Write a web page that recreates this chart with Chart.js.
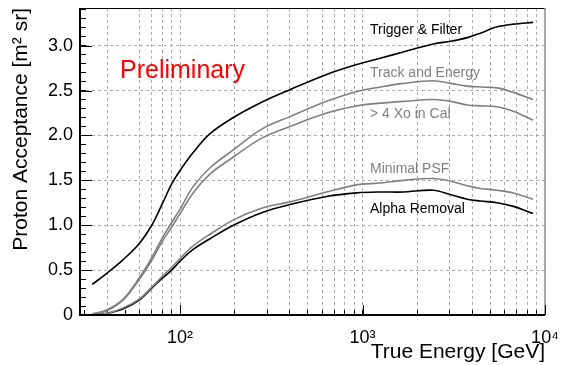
<!DOCTYPE html>
<html>
<head>
<meta charset="utf-8">
<script src="https://cdn.jsdelivr.net/npm/chart.js@4.4.0/dist/chart.umd.min.js"></script>
<style>
    html, body { margin: 0; padding: 0; background: #fff; }
    #contenedor { width: 565px; height: 365px; }
</style>
</head>
<body>
<div id="contenedor"><canvas id="canvasAceptancia" width="565" height="365"></canvas></div>
<script>
// Energía verdadera [GeV], común a todas las curvas
const energias = [33, 40, 49, 60, 70, 80, 90, 100, 118, 146, 196, 280, 400, 636, 930, 1250, 1670, 2440, 3050, 3750, 4420, 5460, 6700, 8600];

// Aceptancia de protones [m^2 sr] por corte
const triggerFilter = [0.34, 0.47, 0.62, 0.80, 1.00, 1.24, 1.46, 1.61, 1.81, 2.02, 2.20, 2.37, 2.51, 2.68, 2.79, 2.86, 2.93, 3.02, 3.05, 3.09, 3.14, 3.21, 3.24, 3.26];
const trackEnergy   = [0.01, 0.06, 0.18, 0.42, 0.64, 0.86, 1.03, 1.18, 1.43, 1.64, 1.84, 2.07, 2.21, 2.38, 2.49, 2.54, 2.58, 2.61, 2.58, 2.55, 2.54, 2.53, 2.48, 2.40];
const xoEnCal       = [0.01, 0.05, 0.17, 0.40, 0.61, 0.82, 0.98, 1.13, 1.36, 1.57, 1.76, 1.97, 2.10, 2.25, 2.33, 2.36, 2.38, 2.40, 2.38, 2.34, 2.33, 2.32, 2.27, 2.17];
const minimalPsf    = [0.00, 0.02, 0.08, 0.18, 0.31, 0.43, 0.53, 0.63, 0.77, 0.90, 1.06, 1.19, 1.26, 1.37, 1.45, 1.47, 1.50, 1.52, 1.49, 1.44, 1.41, 1.39, 1.36, 1.29];
const alphaRemoval  = [0.00, 0.02, 0.07, 0.17, 0.30, 0.41, 0.50, 0.60, 0.73, 0.85, 1.00, 1.14, 1.23, 1.32, 1.36, 1.37, 1.37, 1.39, 1.34, 1.29, 1.27, 1.25, 1.21, 1.13];

const nombresCurvas = ['Trigger & Filter', 'Track and Energy', '> 4 Xo in Cal', 'Minimal PSF', 'Alpha Removal'];
const coloresCurvas = ['#000000', '#808080', '#808080', '#808080', '#000000'];

// Marcas de los ejes
const ticksX = [30, 40, 50, 60, 70, 80, 90, 100, 200, 300, 400, 500, 600, 700, 800, 900,
                1000, 2000, 3000, 4000, 5000, 6000, 7000, 8000, 9000, 10000];
const etiquetasX = { 100: '10\u00B2', 1000: '10\u00B3', 10000: '10\u2074' };
const sinRejillaX = [30, 50, 10000];
const ticksY = [0, 0.1, 0.2, 0.3, 0.4, 0.5, 0.6, 0.7, 0.8, 0.9, 1.0, 1.1, 1.2, 1.3, 1.4, 1.5, 1.6, 1.7,
                1.8, 1.9, 2.0, 2.1, 2.2, 2.3, 2.4, 2.5, 2.6, 2.7, 2.8, 2.9, 3.0, 3.1, 3.2, 3.3, 3.4];
const etiquetasY = ['0', '0.5', '1.0', '1.5', '2.0', '2.5', '3.0'];

const FUENTE = "'Liberation Sans', Arial, Helvetica, sans-serif";

function esMayorY(v) {
    return Math.abs(v * 2 - Math.round(v * 2)) < 1e-6;
}

function esDecada(v) {
    return v in etiquetasX;
}

function linea(ctx, x1, y1, x2, y2) {
    ctx.beginPath();
    ctx.moveTo(x1, y1);
    ctx.lineTo(x2, y2);
    ctx.stroke();
}

// marco, marcas largas y textos
const pluginMarco = {
    id: 'marco',
    afterDatasetsDraw(chart) {
        const { ctx, chartArea: a } = chart;
        const sx = chart.scales.x;
        const sy = chart.scales.y;
        ctx.save();
        ctx.setLineDash([]);

        ctx.strokeStyle = '#000';
        ctx.lineWidth = 1;
        linea(ctx, a.left, a.top + 0.5, a.right, a.top + 0.5);
        ctx.strokeStyle = '#8a8a8a';
        ctx.lineWidth = 1.5;
        linea(ctx, a.right, a.top, a.right, a.bottom);
        ctx.strokeStyle = '#000';
        ctx.lineWidth = 2;
        linea(ctx, a.left, a.top, a.left, a.bottom + 1);
        linea(ctx, a.left - 1, a.bottom, a.right, a.bottom);

        // las marcas mayores son el doble de largas
        ctx.lineWidth = 1;
        ticksY.filter(esMayorY).forEach(v => {
            const py = Math.round(sy.getPixelForValue(v)) + 0.5;
            linea(ctx, a.left, py, a.left + 12, py);
        });
        ticksX.filter(esDecada).forEach(v => {
            const px = Math.round(sx.getPixelForValue(v)) + 0.5;
            linea(ctx, px, a.bottom, px, a.bottom - 10);
        });

        ctx.textBaseline = 'alphabetic';
        ctx.textAlign = 'left';
        ctx.fillStyle = '#ff0000';
        ctx.font = `25px ${FUENTE}`;
        ctx.fillText('Preliminary', 120, 78);

        const posY = [34, 77, 118, 173, 213];
        ctx.font = `14px ${FUENTE}`;
        nombresCurvas.forEach((nombre, i) => {
            ctx.fillStyle = coloresCurvas[i];
            ctx.fillText(nombre, 370, posY[i]);
        });
        ctx.restore();
    }
};

const series = [triggerFilter, trackEnergy, xoEnCal, minimalPsf, alphaRemoval];

new Chart(document.getElementById('canvasAceptancia'), {
    type: 'line',
    data: {
        datasets: series.map((valores, i) => ({
            label: nombresCurvas[i],
            data: energias.map((e, k) => ({ x: e, y: valores[k] })),
            borderColor: coloresCurvas[i],
            borderWidth: 1.6,
            pointRadius: 0,
            fill: false,
            tension: 0.35
        }))
    },
    options: {
        responsive: false,
        animation: false,
        devicePixelRatio: 1,
        layout: { padding: { top: 8, right: 20, left: 0, bottom: 0 } },
        plugins: { legend: { display: false }, tooltip: { enabled: false } },
        scales: {
            x: {
                type: 'logarithmic',
                min: 28.3,
                max: 10000,
                afterBuildTicks: scale => { scale.ticks = ticksX.map(v => ({ value: v })); },
                afterFit: scale => {
                    scale.height = 50;
                    scale.paddingLeft = 0;
                    scale.paddingRight = 0;
                },
                ticks: {
                    autoSkip: false,
                    maxRotation: 0,
                    padding: 17,
                    color: '#000',
                    font: { family: FUENTE, size: 18 },
                    callback: v => etiquetasX[v] || ''
                },
                grid: {
                    drawTicks: true,
                    tickLength: -5,
                    tickColor: '#000',
                    tickWidth: 1,
                    lineWidth: 1,
                    color: c => (c.tick && sinRejillaX.includes(c.tick.value)) ? 'rgba(0,0,0,0)' : '#ababab'
                },
                border: { display: false, dash: [3, 3] },
                title: {
                    display: true,
                    text: 'True Energy [GeV]',
                    align: 'end',
                    color: '#000',
                    font: { family: FUENTE, size: 21 },
                    padding: { top: 0, bottom: 0 }
                }
            },
            y: {
                min: 0,
                max: 3.42,
                afterBuildTicks: scale => { scale.ticks = ticksY.map(v => ({ value: v })); },
                afterFit: scale => {
                    scale.width = 80;
                    scale.paddingTop = 0;
                    scale.paddingBottom = 0;
                },
                ticks: {
                    autoSkip: false,
                    padding: 13,
                    color: '#000',
                    font: { family: FUENTE, size: 18 },
                    callback: v => esMayorY(v) ? etiquetasY[Math.round(v * 2)] : ''
                },
                grid: {
                    drawTicks: true,
                    tickLength: -6,
                    tickColor: '#000',
                    tickWidth: 1,
                    lineWidth: 1,
                    color: c => (c.tick && esMayorY(c.tick.value) && c.tick.value > 0) ? '#ababab' : 'rgba(0,0,0,0)'
                },
                border: { display: false, dash: [3, 3] },
                title: {
                    display: true,
                    text: 'Proton Acceptance [m\u00B2 sr]',
                    align: 'end',
                    color: '#000',
                    font: { family: FUENTE, size: 21 },
                    padding: { top: 9, bottom: 0 }
                }
            }
        }
    },
    plugins: [pluginMarco]
});
</script>
</body>
</html>
